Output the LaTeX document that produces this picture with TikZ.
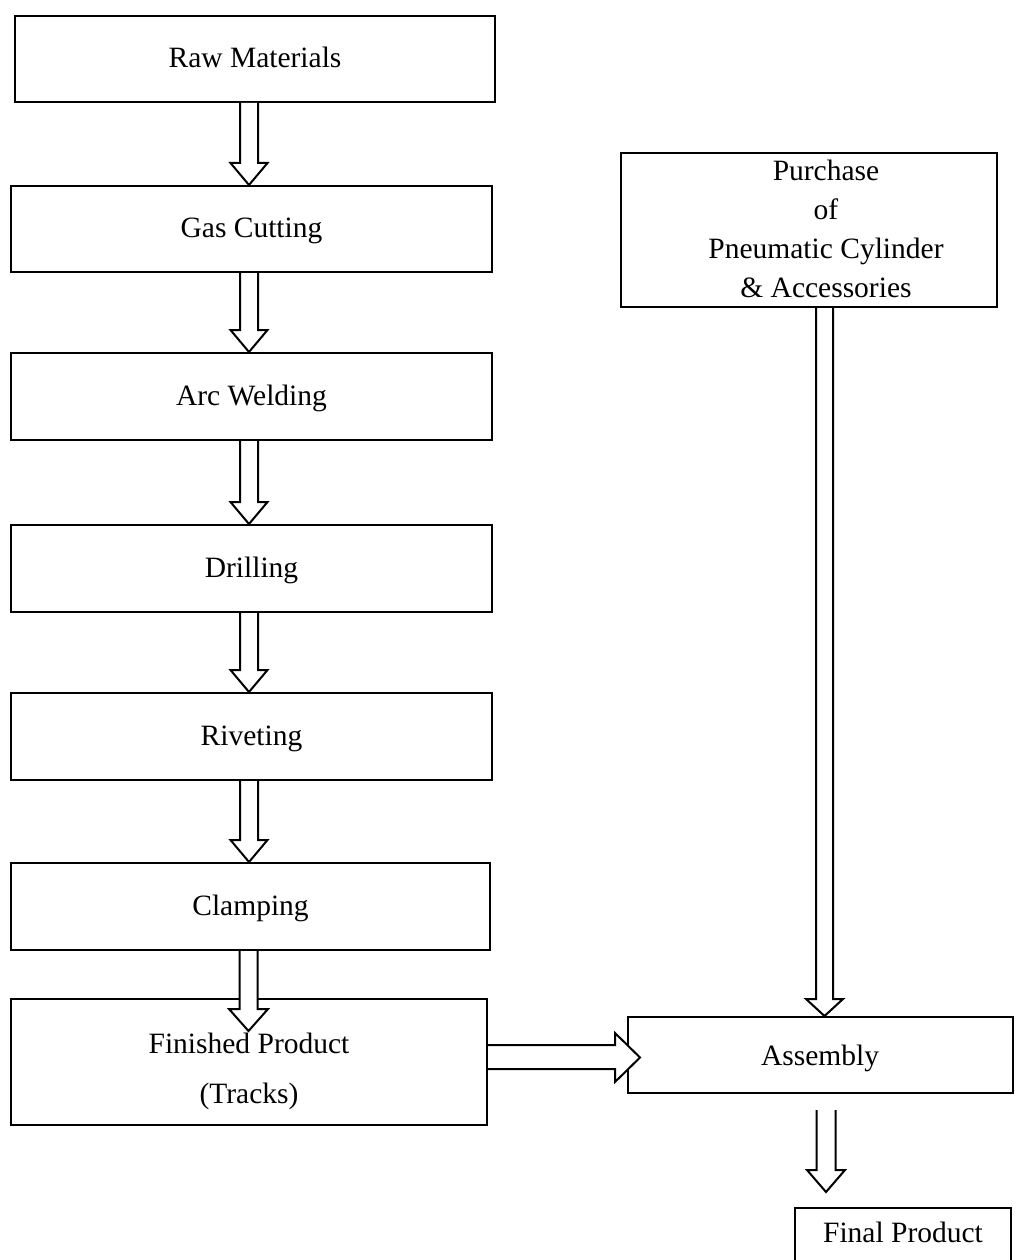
\documentclass[tikz,border=0pt]{standalone}
\usepackage{fontspec}
\setmainfont{Liberation Serif}
\usetikzlibrary{calc}
\tikzset{
  box/.style={draw=black, line width=2pt, fill=white, inner sep=0pt, align=center,
    text height=21pt, text depth=4pt, font=\fontsize{29.5}{39}\selectfont},
  lbl/.style={inner sep=0pt, align=center, font=\fontsize{29.5}{39}\selectfont},
  blk/.style={draw=black, line width=2pt, fill=white, line join=miter}
}
% #1 src, #2 tgt, #3 x centre, #4 half shaft, #5 half head, #6 head length, #7 start gap, #8 end gap
\newcommand\hollowdown[8]{%
  \draw[blk] let \p1=(#1.south), \p2=(#2.north) in
    (#3-#4,\y1-#7) -- (#3-#4,\y2+#8+#6) -- (#3-#5,\y2+#8+#6) -- (#3,\y2+#8)
    -- (#3+#5,\y2+#8+#6) -- (#3+#4,\y2+#8+#6) -- (#3+#4,\y1-#7);}
\begin{document}
\begin{tikzpicture}[x=1pt,y=-1pt]
\useasboundingbox (0,0) rectangle (1015,1260);
\clip (0,0) rectangle (1015,1260);
% left column
\node[box, minimum width=480pt, minimum height=86pt] (raw) at (255,59) {Raw Materials};
\node[box, minimum width=481pt, minimum height=86pt] (gas) at (251.5,229) {Gas Cutting};
\node[box, minimum width=481pt, minimum height=87pt] (arc) at (251.5,396.5) {Arc Welding};
\node[box, minimum width=481pt, minimum height=87pt] (drill) at (251.5,568.5) {Drilling};
\node[box, minimum width=481pt, minimum height=87pt] (rivet) at (251.5,736.5) {Riveting};
\node[box, minimum width=479pt, minimum height=87pt] (clamp) at (250.5,906.5) {Clamping};
\node[box, minimum width=476pt, minimum height=126pt] (fin) at (249,1062) {};
% right column
\node[box, minimum width=376pt, minimum height=154pt] (purch) at (809,230) {};
\node[lbl] (purchtxt) at (826,229) {Purchase\\of\\Pneumatic Cylinder\\\& Accessories};
\node[box, minimum width=385pt, minimum height=76pt] (asm) at (820.5,1055) {};
\node[lbl] (asmtxt) at (820,1058) {Assembly};
\node[box, minimum width=216pt, minimum height=67pt] (final) at (903,1241.5) {};
\node[lbl] (finaltxt) at (903,1232) {Final Product};
% arrows
\hollowdown{raw}{gas}{249}{9}{18.5}{22}{0}{0}
\hollowdown{gas}{arc}{249}{9}{18.5}{22}{0}{0}
\hollowdown{arc}{drill}{249}{9}{18.5}{22}{0}{0}
\hollowdown{drill}{rivet}{249}{9}{18.5}{22}{0}{0}
\hollowdown{rivet}{clamp}{249}{9}{18.5}{22}{0}{0}
\hollowdown{clamp}{fin}{248.5}{9}{19.5}{22}{0}{-33}
\hollowdown{purch}{asm}{824.5}{8.5}{18.5}{17}{0}{0}
\hollowdown{asm}{final}{826}{9.5}{19}{22}{16}{15}
\draw[blk] let \p1=(fin.east), \p2=(asm.west) in
  (\x1,\y1+17) -- (\x2-12,\y1+17) -- (\x2-12,\y1+29) -- (\x2+13,\y1+4.5)
  -- (\x2-12,\y1-20) -- (\x2-12,\y1-7) -- (\x1,\y1-7);
\node[lbl] (fintxt) at (249,1071) {Finished Product\\[11pt](Tracks)};
\end{tikzpicture}
\end{document}
